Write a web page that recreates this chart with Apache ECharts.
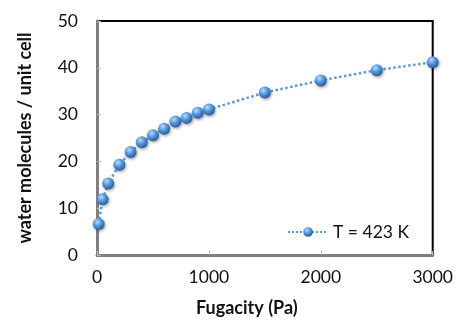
<!DOCTYPE html>
<html><head><meta charset="utf-8">
<script src="https://cdn.jsdelivr.net/npm/echarts@6/dist/echarts.min.js"></script>
<style>html,body{margin:0;padding:0;background:#fff}#c{width:456px;height:322px}</style>
</head><body><div id="c"></div>
<script>
const fugacity = [15, 50, 100, 200, 300, 400, 500, 600, 700, 800, 900, 1000, 1500, 2000, 2500, 3000];
const waterPerCell = [6.6, 11.9, 15.3, 19.3, 22.0, 24.1, 25.6, 27.0, 28.5, 29.3, 30.4, 31.1, 34.7, 37.3, 39.5, 41.2];
const seriesName = 'T = 423 K';
const xTitle = 'Fugacity (Pa)';
const yTitle = 'water molecules / unit cell';

const font = 'Lato, "Open Sans", sans-serif';
const sphere = {
  type: 'radial', x: 0.38, y: 0.32, r: 0.7,
  colorStops: [
    {offset: 0, color: '#b9dcf7'},
    {offset: 0.45, color: '#5a9be0'},
    {offset: 1, color: '#23599a'}
  ]
};
const chart = echarts.init(document.getElementById('c'));
chart.setOption({
  animation: false,
  grid: {left: 97, right: 19, top: 21, bottom: 65, show: true, borderColor: '#000', borderWidth: 2},
  legend: {
    data: [seriesName], right: 42, bottom: 76, itemWidth: 40, itemHeight: 12, itemGap: 4,
    textStyle: {fontFamily: font, fontSize: 17.5, color: '#111'}
  },
  xAxis: {
    type: 'value', min: 0, max: 3000, interval: 1000,
    name: xTitle, nameLocation: 'middle', nameGap: 44,
    nameTextStyle: {fontFamily: font, fontSize: 18, fontWeight: 'bold', color: '#111', padding: [0, 36, 0, 0]},
    axisLine: {show: true, lineStyle: {color: '#7f7f7f', width: 3}},
    axisTick: {show: true, inside: true, length: 4, lineStyle: {color: '#bbb'}},
    axisLabel: {fontFamily: font, fontSize: 17.5, color: '#111', margin: 13, formatter: v => String(v)},
    splitLine: {show: false}
  },
  yAxis: {
    type: 'value', min: 0, max: 50, interval: 10,
    name: yTitle, nameLocation: 'middle', nameGap: 63, nameRotate: 90,
    nameTextStyle: {fontFamily: font, fontSize: 18, fontWeight: 'bold', color: '#111'},
    axisLine: {show: true, lineStyle: {color: '#7f7f7f', width: 3}},
    axisTick: {show: true, inside: true, length: 4, lineStyle: {color: '#bbb'}},
    axisLabel: {fontFamily: font, fontSize: 17.5, color: '#111', margin: 19, formatter: v => String(v)},
    splitLine: {show: false}
  },
  series: [{
    name: seriesName, type: 'line',
    data: fugacity.map((f, i) => [f, waterPerCell[i]]),
    symbol: 'circle', symbolSize: 12,
    lineStyle: {color: '#5b9bd5', width: 2.5, type: 'dotted'},
    itemStyle: {color: sphere, shadowColor: 'rgba(0,0,0,0.35)', shadowBlur: 3, shadowOffsetX: 1, shadowOffsetY: 1.5}
  }]
});
</script></body></html>
